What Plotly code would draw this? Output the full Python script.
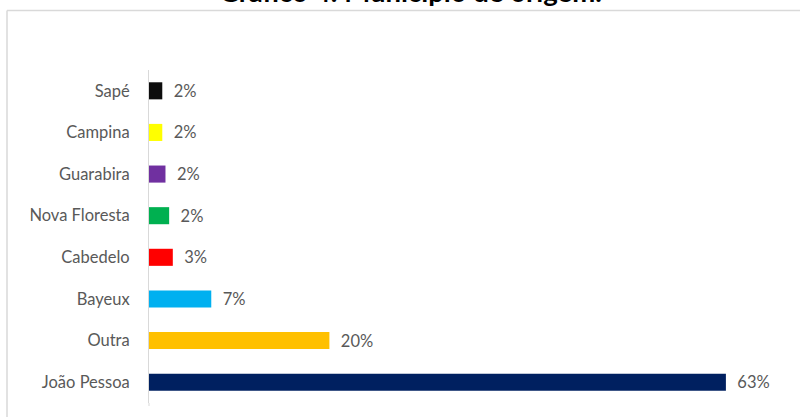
import plotly.graph_objects as go

categories = ["Sapé", "Campina", "Guarabira", "Nova Floresta", "Cabedelo", "Bayeux", "Outra", "João Pessoa"]
values = [1.45, 1.45, 1.8, 2.2, 2.6, 6.8, 19.7, 63.0]
labels = ["2%", "2%", "2%", "2%", "3%", "7%", "20%", "63%"]
colors = ["#0d0d0d", "#ffff00", "#7030a0", "#00b050", "#ff0000", "#00b0f0", "#ffc000", "#002060"]
title = "Gráfico 4: Município de origem."

W, H = 800, 417
L, R, T, B = 149, 10, 70, 14
pw, ph = W - L - R, H - T - B

def px_x(x):
    return (x - L) / pw

def px_y(y):
    return (H - B - y) / ph

fig = go.Figure(go.Bar(
    x=values, y=categories, orientation="h",
    marker=dict(color=colors, line=dict(width=0)),
    text=["\u00a0\u00a0" + t for t in labels],
    textposition="outside",
    constraintext="none",
    textfont=dict(family="Lato", size=16.5, color="#595959"),
    cliponaxis=False,
    width=0.41,
))

fig.update_layout(
    width=W, height=H,
    margin=dict(l=L, r=R, t=T, b=B),
    paper_bgcolor="white", plot_bgcolor="white",
    showlegend=False,
    xaxis=dict(range=[0, 70], visible=False, showgrid=False, zeroline=False),
    yaxis=dict(autorange="reversed", showline=True, linecolor="#d9d9d9", linewidth=1,
               ticks="", showgrid=False, ticklabelstandoff=15,
               tickfont=dict(family="Lato", size=16.5, color="#595959")),
    shapes=[
        dict(type="line", xref="paper", yref="paper", x0=px_x(7), x1=px_x(805), y0=px_y(10.5), y1=px_y(10.5),
             line=dict(color="#d9d9d9", width=1.5)),
        dict(type="line", xref="paper", yref="paper", x0=px_x(7), x1=px_x(7), y0=px_y(10.5), y1=px_y(420),
             line=dict(color="#d9d9d9", width=1.5)),
        dict(type="line", xref="paper", yref="paper", x0=0, x1=0, y0=px_y(403), y1=px_y(406),
             line=dict(color="#d9d9d9", width=1)),
    ],
    annotations=[dict(text="<b>" + title + "</b>", xref="paper", yref="paper",
                      x=px_x(410), y=px_y(10), xanchor="center", yanchor="bottom",
                      showarrow=False, font=dict(family="Lato", size=27.5, color="#000000"))],
)

fig.write_html("out.html")
